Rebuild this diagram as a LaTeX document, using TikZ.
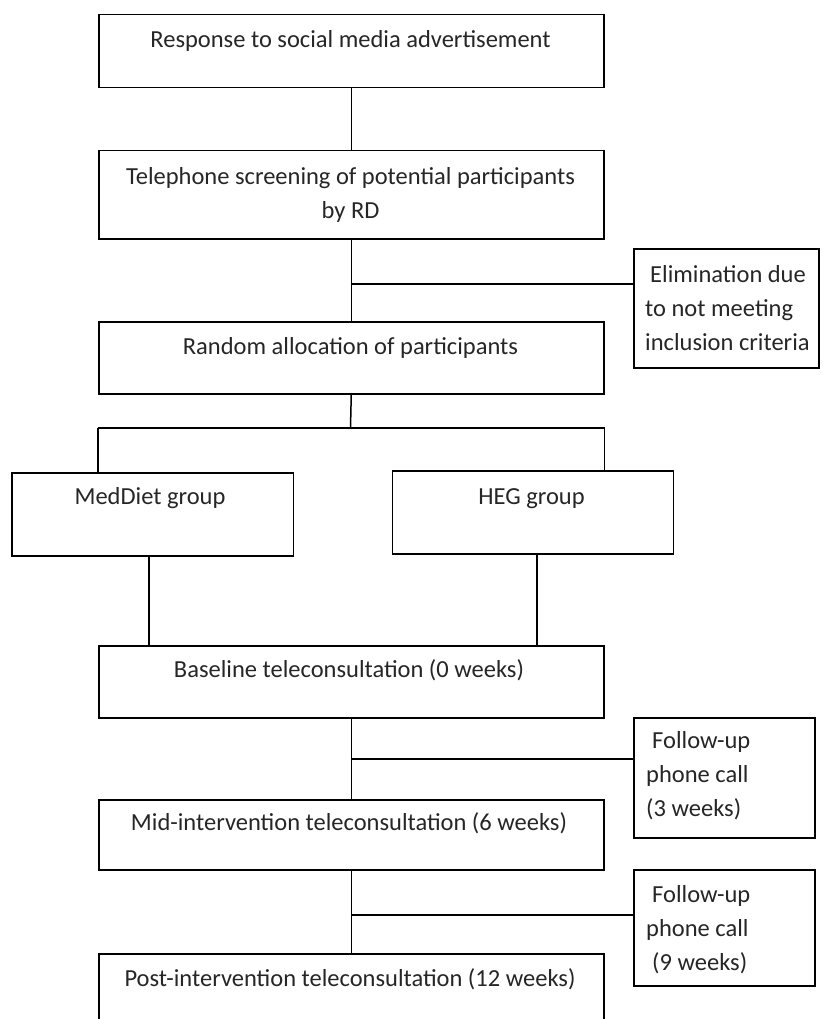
\documentclass[tikz,border=0pt]{standalone}
\usepackage{fontspec}
\setmainfont{Carlito}
\begin{document}
\begin{tikzpicture}[x=1pt,y=-1pt,
  box/.style={draw=black,line width=1.5pt,inner sep=0pt,anchor=north west},
  lbl/.style={inner sep=0pt,text=black!85,font=\fontsize{24.5}{34}\selectfont},
  conn/.style={draw=black,line width=1.5pt}]
\clip (0,0) rectangle (822,1019);
\fill[white] (0,0) rectangle (822,1019);

% boxes
\node[box,minimum width=505pt,minimum height=73pt] (b1) at (98,14) {};
\node[box,minimum width=505pt,minimum height=88pt] (b2) at (98,150) {};
\node[box,minimum width=185pt,minimum height=119pt] (elim) at (633,248) {};
\node[box,minimum width=505pt,minimum height=72pt] (b3) at (98,321) {};
\node[box,minimum width=281.5pt,minimum height=83pt] (med) at (11,472) {};
\node[box,minimum width=281pt,minimum height=83pt] (heg) at (391.6,470) {};
\node[box,minimum width=505pt,minimum height=72pt] (base) at (98,645) {};
\node[box,minimum width=181pt,minimum height=120pt] (f1) at (633,717) {};
\node[box,minimum width=505pt,minimum height=70pt] (mid) at (98,799) {};
\node[box,minimum width=181pt,minimum height=116pt] (f2) at (633,869) {};
\node[box,minimum width=505pt,minimum height=100pt] (post) at (98,953) {};

% texts
\node[lbl,anchor=north] (t1) at (350.5,23.2) {\strut Response to social media advertisement};
\node[lbl,anchor=north,align=center] (t2) at (350.5,160.2) {\strut Telephone screening of potential participants\\by RD};
\node[lbl,anchor=north west,align=left] (t3) at (645,258.2) {\strut\hspace*{5pt}Elimination due\\to not meeting\\inclusion criteria};
\node[lbl,anchor=north] (t4) at (350.5,330.2) {\strut Random allocation of participants};
\node[lbl,anchor=north] (t5) at (150,480.2) {\strut MedDiet group};
\node[lbl,anchor=north] (t6) at (531.5,480.2) {\strut HEG group};
\node[lbl,anchor=north] (t7) at (349,653.2) {\strut Baseline teleconsultation (0 weeks)};
\node[lbl,anchor=north west,align=left] (t8) at (646,724.2) {\strut\hspace*{6pt}Follow-up\\phone call\\(3 weeks)};
\node[lbl,anchor=north] (t9) at (349,806.2) {\strut Mid-intervention teleconsultation (6 weeks)};
\node[lbl,anchor=north west,align=left] (t10) at (646,878.2) {\strut\hspace*{6pt}Follow-up\\phone call\\\hspace*{6pt}(9 weeks)};
\node[lbl,anchor=north] (t11) at (350,962.2) {\strut Post-intervention teleconsultation (12 weeks)};

% junction points
\coordinate (j1) at (350.5,284);
\coordinate (j2) at (350.5,428);
\coordinate (j3) at (350.5,759);
\coordinate (j4) at (350.5,915);

% connectors
\draw[conn] (b1.south) -- (b2.north);
\draw[conn] (b2.south) -- (b3.north);
\draw[conn] (j1) -- (j1 -| elim.west);
\draw[conn] (b3.south) -- (j2);
\draw[conn] (b3.south west |- j2) -- (b3.south east |- j2);
\draw[conn] (b3.south west |- j2) -- (b3.south west |- med.north);
\draw[conn] (b3.south east |- j2) -- (b3.south east |- heg.north);
\draw[conn] (med.south) ++(-3.5,0) coordinate (m1) -- (m1 |- base.north);
\draw[conn] (heg.south) ++(4,0) coordinate (h1) -- (h1 |- base.north);
\draw[conn] (base.south) -- (mid.north);
\draw[conn] (j3) -- (j3 -| f1.west);
\draw[conn] (mid.south) -- (post.north);
\draw[conn] (j4) -- (j4 -| f2.west);
\end{tikzpicture}
\end{document}
